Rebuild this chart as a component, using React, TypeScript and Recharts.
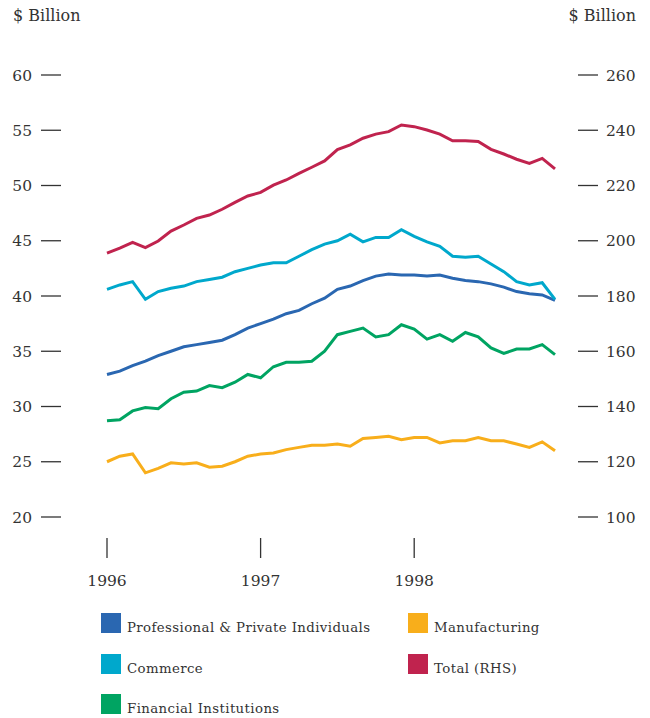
import { LineChart, Line, XAxis, YAxis } from 'recharts';

// monthly, Jan 1996 .. Dec 1998
const months = Array.from({ length: 36 }, (_, i) => i);
const yearLabels = ['1996', '1997', '1998'];
const yearTicks = [0, 12, 24];

const professional = [
  32.9, 33.2, 33.7, 34.1, 34.6, 35.0, 35.4, 35.6, 35.8, 36.0, 36.5, 37.1,
  37.5, 37.9, 38.4, 38.7, 39.3, 39.8, 40.6, 40.9, 41.4, 41.8, 42.0, 41.9,
  41.9, 41.8, 41.9, 41.6, 41.4, 41.3, 41.1, 40.8, 40.4, 40.2, 40.1, 39.6,
];
const commerce = [
  40.6, 41.0, 41.3, 39.7, 40.4, 40.7, 40.9, 41.3, 41.5, 41.7, 42.2, 42.5,
  42.8, 43.0, 43.0, 43.6, 44.2, 44.7, 45.0, 45.6, 44.9, 45.3, 45.3, 46.0,
  45.4, 44.9, 44.5, 43.6, 43.5, 43.6, 42.9, 42.2, 41.3, 41.0, 41.2, 39.7,
];
const financial = [
  28.7, 28.8, 29.6, 29.9, 29.8, 30.7, 31.3, 31.4, 31.9, 31.7, 32.2, 32.9,
  32.6, 33.6, 34.0, 34.0, 34.1, 35.0, 36.5, 36.8, 37.1, 36.3, 36.5, 37.4,
  37.0, 36.1, 36.5, 35.9, 36.7, 36.3, 35.3, 34.8, 35.2, 35.2, 35.6, 34.7,
];
const manufacturing = [
  25.0, 25.5, 25.7, 24.0, 24.4, 24.9, 24.8, 24.9, 24.5, 24.6, 25.0, 25.5,
  25.7, 25.8, 26.1, 26.3, 26.5, 26.5, 26.6, 26.4, 27.1, 27.2, 27.3, 27.0,
  27.2, 27.2, 26.7, 26.9, 26.9, 27.2, 26.9, 26.9, 26.6, 26.3, 26.8, 26.0,
];
const total = [
  195.5, 197.3, 199.4, 197.5, 199.9, 203.5, 205.7, 208.1, 209.3, 211.4, 213.9, 216.2,
  217.5, 220.1, 222.0, 224.4, 226.6, 228.9, 233.0, 234.7, 237.1, 238.6, 239.5, 241.9,
  241.3, 240.1, 238.6, 236.2, 236.2, 235.9, 233.1, 231.4, 229.5, 228.0, 229.8, 226.0,
];

const leftTicks = [20, 25, 30, 35, 40, 45, 50, 55, 60];
const rightTicks = [100, 120, 140, 160, 180, 200, 220, 240, 260];

const data = months.map((m, i) => ({
  m,
  professional: professional[i],
  commerce: commerce[i],
  financial: financial[i],
  manufacturing: manufacturing[i],
  total: total[i],
}));

const series = [
  { key: 'professional', name: 'Professional & Private Individuals', color: '#2a67b1', axis: 'left' },
  { key: 'commerce', name: 'Commerce', color: '#00a8cc', axis: 'left' },
  { key: 'financial', name: 'Financial Institutions', color: '#00a462', axis: 'left' },
  { key: 'manufacturing', name: 'Manufacturing', color: '#f8ae1b', axis: 'left' },
  { key: 'total', name: 'Total (RHS)', color: '#c0234e', axis: 'right' },
];

const FONT = '"DejaVu Serif", serif';
const TEXT = '#333333';

function YearTick(props: any) {
  const { x, y, payload } = props;
  const label = yearLabels[yearTicks.indexOf(payload.value)];
  return (
    <g>
      <line x1={x} x2={x} y1={y + 21} y2={y + 41} stroke={TEXT} strokeWidth={1.3} />
      <text x={x} y={y + 69} textAnchor="middle" fill={TEXT} fontSize={15.5} fontFamily={FONT}>
        {label}
      </text>
    </g>
  );
}

function LegendBox() {
  const cols = [
    series.filter((s) => s.axis === 'left' && s.key !== 'manufacturing'),
    series.filter((s) => s.key === 'manufacturing' || s.key === 'total'),
  ];
  const colLeft = [101, 408];
  return (
    <>
      {cols.map((col, ci) =>
        col.map((s, ri) => (
          <div
            key={s.key}
            style={{ position: 'absolute', left: colLeft[ci], top: 613 + ri * 40.5, display: 'flex', alignItems: 'flex-start' }}
          >
            <div style={{ width: 20, height: 20, background: s.color }} />
            <span style={{ marginLeft: 6, marginTop: 7, fontSize: 13.3, fontFamily: FONT, color: TEXT, lineHeight: '16px', letterSpacing: 0.4 }}>
              {s.name}
            </span>
          </div>
        ))
      )}
    </>
  );
}

export default function App() {
  return (
    <div style={{ position: 'relative', width: 650, height: 718, background: '#fff' }}>
      <style>{'body{margin:0}'}</style>
      <div style={{ position: 'absolute', left: 13, top: 6, fontSize: 16, fontFamily: FONT, color: TEXT }}>$ Billion</div>
      <div style={{ position: 'absolute', right: 14, top: 6, fontSize: 16, fontFamily: FONT, color: TEXT }}>$ Billion</div>
      <LineChart width={650} height={718} data={data} margin={{ top: 75, right: 0, bottom: 121, left: 0 }}>
        <XAxis
          dataKey="m"
          type="number"
          domain={[0, 35]}
          ticks={yearTicks}
          padding={{ left: 46, right: 23 }}
          axisLine={false}
          tickLine={false}
          tickSize={0}
          tickMargin={0}
          height={80}
          tick={<YearTick />}
          interval={0}
        />
        <YAxis
          yAxisId="left"
          orientation="left"
          width={61}
          domain={[20, 60]}
          ticks={leftTicks}
          axisLine={false}
          tickSize={20}
          tickMargin={9}
          tickLine={{ stroke: TEXT, strokeWidth: 1.3 }}
          tick={{ fill: TEXT, fontSize: 15.5, fontFamily: FONT }}
        />
        <YAxis
          yAxisId="right"
          orientation="right"
          width={72}
          domain={[100, 260]}
          ticks={rightTicks}
          axisLine={false}
          tickSize={20}
          tickMargin={8}
          tickLine={{ stroke: TEXT, strokeWidth: 1.3 }}
          tick={{ fill: TEXT, fontSize: 15.5, fontFamily: FONT }}
        />
        {series.map((s) => (
          <Line
            key={s.key}
            yAxisId={s.axis}
            dataKey={s.key}
            name={s.name}
            stroke={s.color}
            strokeWidth={3}
            dot={false}
            type="linear"
            isAnimationActive={false}
          />
        ))}
      </LineChart>
      <LegendBox />
    </div>
  );
}
